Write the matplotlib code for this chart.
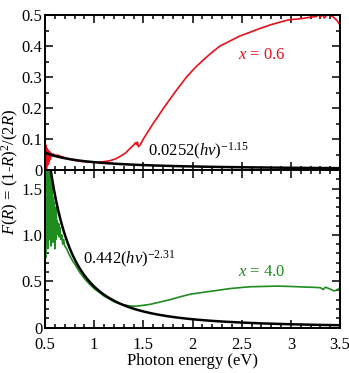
import matplotlib
matplotlib.use("Agg")
import matplotlib.pyplot as plt
import numpy as np
from matplotlib.ticker import MultipleLocator, FixedFormatter, FixedLocator

plt.rcParams['font.family'] = ['Liberation Serif', 'DejaVu Serif']
plt.rcParams['mathtext.fontset'] = 'custom'
plt.rcParams['mathtext.rm'] = 'Liberation Serif'
plt.rcParams['mathtext.it'] = 'Liberation Serif:italic'

# x = 0.6 sample (top panel)
red_e = [0.500, 0.505, 0.510, 0.515, 0.520, 0.525, 0.530, 0.535, 0.540, 0.545,
         0.550, 0.555, 0.560, 0.570, 0.580, 0.600, 0.630, 0.660, 0.700, 0.750,
         0.800, 0.860, 0.920, 0.980, 1.040, 1.100, 1.160, 1.220, 1.270, 1.320,
         1.360, 1.400, 1.420, 1.430, 1.440, 1.450, 1.470, 1.500, 1.550, 1.600,
         1.650, 1.700, 1.770, 1.850, 1.940, 2.020, 2.110, 2.200, 2.280, 2.380,
         2.480, 2.590, 2.690, 2.790, 2.890, 2.990, 3.100, 3.200, 3.260, 3.280,
         3.300, 3.320, 3.340, 3.360, 3.380, 3.400, 3.420, 3.450, 3.470, 3.500]
red_f = [0.100, 0.010, 0.080, 0.000, 0.070, 0.015, 0.065, 0.020, 0.060, 0.030,
         0.058, 0.035, 0.055, 0.045, 0.052, 0.047, 0.048, 0.044, 0.040, 0.035,
         0.031, 0.028, 0.026, 0.025, 0.025, 0.027, 0.030, 0.036, 0.045, 0.055,
         0.068, 0.080, 0.088, 0.082, 0.090, 0.075, 0.082, 0.100, 0.125, 0.150,
         0.173, 0.197, 0.228, 0.263, 0.300, 0.328, 0.355, 0.380, 0.400, 0.416,
         0.432, 0.445, 0.457, 0.468, 0.477, 0.485, 0.488, 0.493, 0.495, 0.502,
         0.492, 0.503, 0.490, 0.498, 0.505, 0.497, 0.496, 0.488, 0.482, 0.468]

# x = 4.0 sample (bottom panel)
green_e = [0.500, 0.503, 0.506, 0.509, 0.512, 0.515, 0.520, 0.525, 0.530, 0.535,
           0.540, 0.545, 0.550, 0.555, 0.560, 0.565, 0.570, 0.575, 0.580, 0.585,
           0.590, 0.595, 0.600, 0.605, 0.610, 0.615, 0.620, 0.625, 0.630, 0.635,
           0.640, 0.645, 0.650, 0.660, 0.670, 0.680, 0.690, 0.700, 0.720, 0.740,
           0.760, 0.780, 0.800, 0.850, 0.900, 0.950, 1.000, 1.050, 1.100, 1.150,
           1.200, 1.250, 1.300, 1.350, 1.400, 1.450, 1.500, 1.570, 1.670, 1.770,
           1.870, 1.980, 2.080, 2.180, 2.280, 2.380, 2.480, 2.590, 2.720, 2.860,
           3.000, 3.130, 3.220, 3.300, 3.330, 3.350, 3.370, 3.400, 3.440, 3.470,
           3.500]
green_f = [0.55, 1.70, 0.75, 1.70, 0.90, 1.70, 1.00, 1.70, 0.85, 1.70,
           1.05, 1.70, 0.95, 1.65, 0.88, 1.55, 1.00, 1.50, 0.92, 1.40,
           1.05, 1.35, 0.85, 1.25, 0.95, 1.30, 1.00, 1.15, 1.10, 1.05,
           1.12, 0.98, 1.08, 0.95, 1.00, 0.90, 0.95, 0.88, 0.85, 0.80,
           0.76, 0.72, 0.69, 0.60, 0.53, 0.47, 0.42, 0.38, 0.34, 0.31,
           0.28, 0.26, 0.245, 0.235, 0.23, 0.232, 0.24, 0.25, 0.275, 0.30,
           0.33, 0.36, 0.375, 0.39, 0.405, 0.42, 0.43, 0.44, 0.443, 0.447,
           0.443, 0.437, 0.434, 0.43, 0.41, 0.435, 0.428, 0.415, 0.395, 0.405,
           0.43]

# power-law fits A*(hv)^n
fit_coef = [0.0252, 0.442]
fit_exp = [-1.15, -2.31]

x_ticks = [0.5, 1.0, 1.5, 2.0, 2.5, 3.0, 3.5]
x_labels = ['0.5', '1', '1.5', '2', '2.5', '3', '3.5']
top_ticks = [0, 0.1, 0.2, 0.3, 0.4, 0.5]
top_labels = ['0', '0.1', '0.2', '0.3', '0.4', '0.5']
bot_ticks = [0, 0.5, 1.0, 1.5]
bot_labels = ['0', '0.5', '1.0', '1.5']

red = '#e8101a'
green = '#1e8c1e'
fs = 12

fig = plt.figure(figsize=(3.49, 3.73), dpi=100)
left, right = 45 / 349, 340 / 349
ax1 = fig.add_axes([left, 1 - 170 / 373, right - left, 155 / 373])
ax2 = fig.add_axes([left, 1 - 327.5 / 373, right - left, 157.5 / 373])

e_fit = np.linspace(0.5, 3.5, 400)

ax1.plot(red_e, red_f, color=red, lw=1.2, zorder=2)
ax1.plot(e_fit, fit_coef[0] * e_fit ** fit_exp[0], color='black', lw=1.8, zorder=3)
ax2.plot(green_e, green_f, color=green, lw=1.2, zorder=2)
ax2.plot(e_fit, fit_coef[1] * e_fit ** fit_exp[1], color='black', lw=1.8, zorder=3)

ax1.set_ylim(0, 0.5)
ax2.set_ylim(0, 1.7)
for ax in (ax1, ax2):
    ax.set_xlim(0.5, 3.5)
    ax.xaxis.set_major_locator(FixedLocator(x_ticks))
    ax.xaxis.set_major_formatter(FixedFormatter(x_labels))
    ax.xaxis.set_minor_locator(MultipleLocator(0.1))
    ax.tick_params(which='both', direction='in', top=True, right=True,
                   labelsize=fs, width=1.1, pad=2)
    ax.tick_params(which='major', length=6)
    ax.tick_params(which='minor', length=3)
    ax.tick_params(axis='x', pad=7)
    for s in ax.spines.values():
        s.set_linewidth(1.4)

ax1.yaxis.set_major_locator(FixedLocator(top_ticks))
ax1.yaxis.set_major_formatter(FixedFormatter(top_labels))
ax1.yaxis.set_minor_locator(MultipleLocator(0.05))
ax1.tick_params(labelbottom=False)

ax2.yaxis.set_major_locator(FixedLocator(bot_ticks))
ax2.yaxis.set_major_formatter(FixedFormatter(bot_labels))
ax2.yaxis.set_minor_locator(MultipleLocator(0.1))

ax1.text(2.7, 0.37, r'$x$ = 0.6', color=red, fontsize=fs, ha='center', va='center')
ax1.text(1.55, 0.06, r'0.0252($h\nu$)$^{-1.15}$', color='black', fontsize=fs,
         ha='left', va='center')
ax2.text(0.89, 0.74, r'0.442($h\nu$)$^{-2.31}$', color='black', fontsize=fs,
         ha='left', va='center')
ax2.text(2.7, 0.6, r'$x$ = 4.0', color=green, fontsize=fs, ha='center', va='center')

ax2.set_xlabel('Photon energy (eV)', fontsize=fs, labelpad=0)
fig.text(0.03, 1 - 172 / 373, r'$F$($R$) = (1-$R$)$^2$/(2$R$)', rotation=90,
         fontsize=fs, ha='center', va='center')

fig.savefig('out.png', dpi=100)
